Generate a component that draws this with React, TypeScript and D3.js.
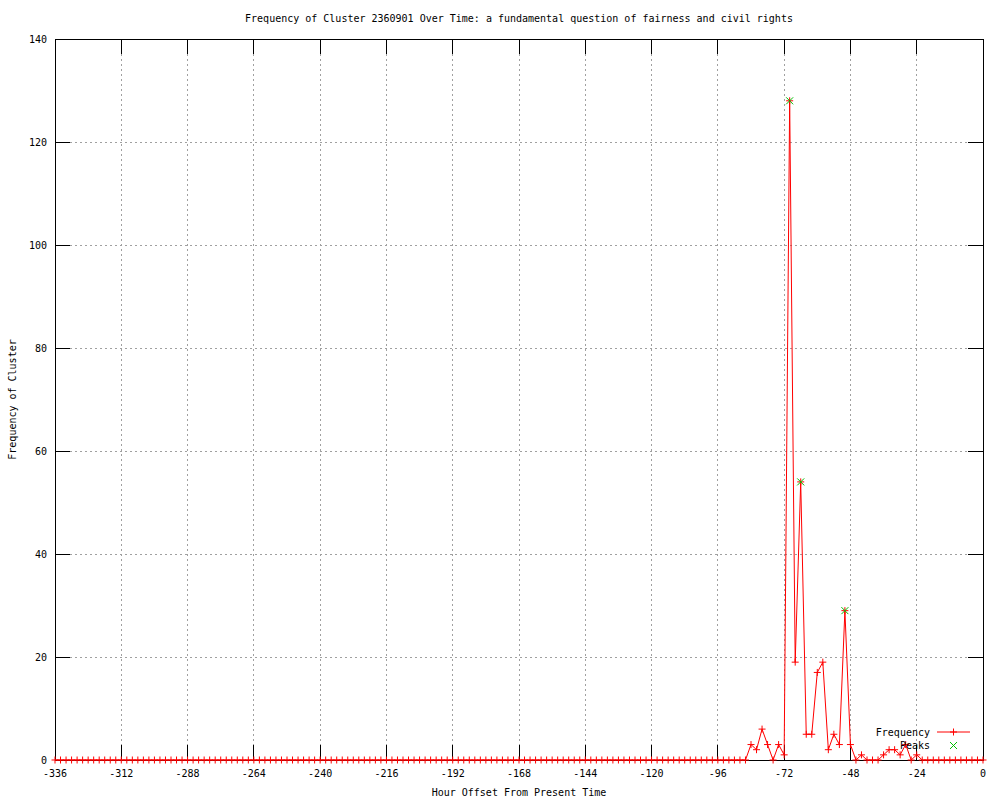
import React from "react";
import * as d3 from "d3";

const TITLE = "Frequency of Cluster 2360901 Over Time: a fundamental question of fairness and civil rights";
const X_LABEL = "Hour Offset From Present Time";
const Y_LABEL = "Frequency of Cluster";

// hour offsets -336 .. 0, every 2 hours
const hours: number[] = d3.range(-336, 1, 2);

// frequency per hour offset (169 values)
const frequency: number[] = [
  0, 0, 0, 0, 0, 0, 0, 0, 0, 0, 0, 0, 0, 0, 0, 0, 0, 0, 0, 0, 0,
  0, 0, 0, 0, 0, 0, 0, 0, 0, 0, 0, 0, 0, 0, 0, 0, 0, 0, 0, 0, 0,
  0, 0, 0, 0, 0, 0, 0, 0, 0, 0, 0, 0, 0, 0, 0, 0, 0, 0, 0, 0, 0,
  0, 0, 0, 0, 0, 0, 0, 0, 0, 0, 0, 0, 0, 0, 0, 0, 0, 0, 0, 0, 0,
  0, 0, 0, 0, 0, 0, 0, 0, 0, 0, 0, 0, 0, 0, 0, 0, 0, 0, 0, 0, 0,
  0, 0, 0, 0, 0, 0, 0, 0, 0, 0, 0, 0, 0, 0, 0, 0, 0, 0, 0, 0, 0,
  3, 2, 6, 3, 0, 3, 1, 128, 19, 54, 5, 5, 17, 19, 2, 5, 3, 29, 3, 0, 1,
  0, 0, 0, 1, 2, 2, 1, 3, 0, 1,
  0, 0, 0, 0, 0, 0, 0, 0, 0, 0, 0, 0,
];

const peakHours: number[] = [-70, -66, -50];
const peakValues: number[] = [128, 54, 29];

const xTicks: number[] = [-336, -312, -288, -264, -240, -216, -192, -168, -144, -120, -96, -72, -48, -24, 0];
const yTicks: number[] = [0, 20, 40, 60, 80, 100, 120, 140];

const FONT = "'DejaVu Sans Mono', monospace";

export default function App() {
  const W = 1000, H = 800;
  const L = 55, R = 983, T = 39, B = 760;
  const x = d3.scaleLinear().domain([-336, 0]).range([L, R]);
  const y = d3.scaleLinear().domain([0, 140]).range([B, T]);
  const tick = 15;
  const data = hours.map((h, i) => [h, frequency[i]] as [number, number]);
  const line = d3.line<[number, number]>().x(d => x(d[0])).y(d => y(d[1]));
  const ps = 3.5;
  const xs = 3.5;
  const green = "#00c000";

  const plus = (cx: number, cy: number, key: string) => (
    <g key={key}>
      <line x1={cx - ps} x2={cx + ps} y1={cy} y2={cy} stroke="#ff0000" strokeWidth={1} />
      <line x1={cx} x2={cx} y1={cy - ps} y2={cy + ps} stroke="#ff0000" strokeWidth={1} />
    </g>
  );
  const cross = (cx: number, cy: number, key: string) => (
    <g key={key}>
      <line x1={cx - xs} x2={cx + xs} y1={cy - xs} y2={cy + xs} stroke={green} strokeWidth={1} />
      <line x1={cx - xs} x2={cx + xs} y1={cy + xs} y2={cy - xs} stroke={green} strokeWidth={1} />
    </g>
  );

  return (
    <svg width={W} height={H} style={{ position: "absolute", left: 0, top: 0, background: "#fff" }}
      fontFamily={FONT} fontSize={10}>
      <rect x={0} y={0} width={W} height={H} fill="#fff" />
      {/* grid */}
      <g stroke="#a0a0a0" strokeWidth={1} strokeDasharray="2,3" shapeRendering="crispEdges">
        {xTicks.filter(t => t !== -336 && t !== 0).map(t => (
          <line key={"gx" + t} x1={x(t)} x2={x(t)} y1={T} y2={B} />
        ))}
        {yTicks.filter(t => t !== 0 && t !== 140).map(t => (
          <line key={"gy" + t} x1={L} x2={R} y1={y(t)} y2={y(t)} />
        ))}
      </g>
      {/* ticks */}
      <g stroke="#000" strokeWidth={1} shapeRendering="crispEdges">
        {xTicks.map(t => (
          <g key={"tx" + t}>
            <line x1={x(t)} x2={x(t)} y1={B} y2={B - tick} />
            <line x1={x(t)} x2={x(t)} y1={T} y2={T + tick} />
          </g>
        ))}
        {yTicks.map(t => (
          <g key={"ty" + t}>
            <line x1={L} x2={L + tick} y1={y(t)} y2={y(t)} />
            <line x1={R} x2={R - tick} y1={y(t)} y2={y(t)} />
          </g>
        ))}
        <rect x={L} y={T} width={R - L} height={B - T} fill="none" />
      </g>
      {/* tick labels */}
      <g fill="#000">
        {xTicks.map(t => (
          <text key={"lx" + t} x={x(t)} y={B + 17} textAnchor="middle">{t}</text>
        ))}
        {yTicks.map(t => (
          <text key={"ly" + t} x={L - 8} y={y(t) + 4} textAnchor="end">{t}</text>
        ))}
      </g>
      {/* data */}
      <path d={line(data) || ""} fill="none" stroke="#ff0000" strokeWidth={1} />
      {data.map((d, i) => plus(x(d[0]), y(d[1]), "p" + i))}
      {peakHours.map((h, i) => cross(x(h), y(peakValues[i]), "k" + i))}
      {/* legend */}
      <text x={930} y={736} textAnchor="end">Frequency</text>
      <line x1={937} x2={970} y1={732} y2={732} stroke="#ff0000" strokeWidth={1} />
      {plus(953.5, 732, "lp")}
      <text x={930} y={749} textAnchor="end">Peaks</text>
      {cross(953.5, 745.5, "lk")}
      {/* titles */}
      <text x={(L + R) / 2} y={22} textAnchor="middle">{TITLE}</text>
      <text x={(L + R) / 2} y={796} textAnchor="middle">{X_LABEL}</text>
      <text transform={`translate(16, ${(T + B) / 2}) rotate(-90)`} textAnchor="middle">{Y_LABEL}</text>
    </svg>
  );
}
